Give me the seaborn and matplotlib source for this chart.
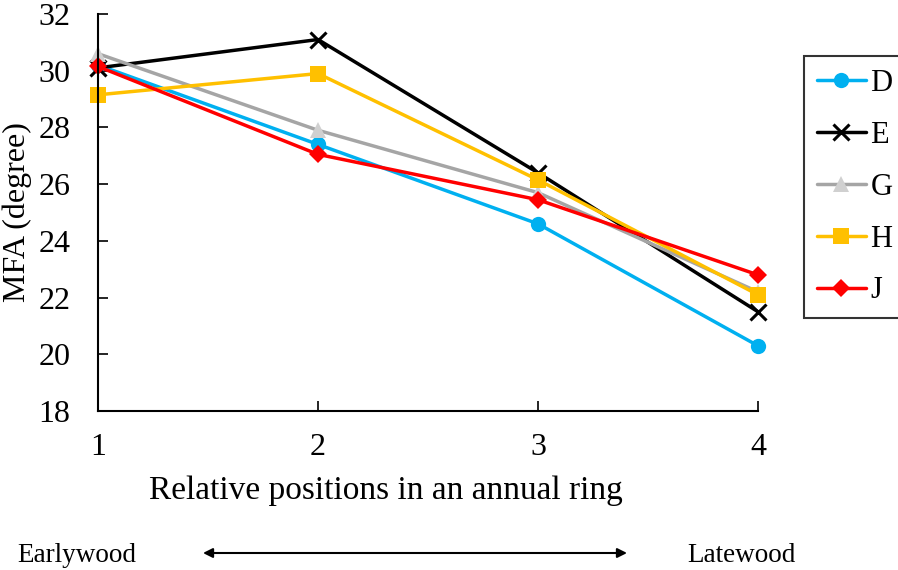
import matplotlib
matplotlib.use("Agg")
import matplotlib.pyplot as plt
import seaborn as sns
import pandas as pd

positions = [1, 2, 3, 4]
series_names = ["D", "E", "G", "H", "J"]
D = [30.2, 27.4, 24.6, 20.3]
E = [30.1, 31.1, 26.4, 21.5]
G = [30.6, 27.9, 25.7, 22.2]
H = [29.15, 29.9, 26.15, 22.1]
J = [30.15, 27.05, 25.45, 22.8]
y_ticks = [18, 20, 22, 24, 26, 28, 30, 32]

colors = {"D": "#00B0F0", "E": "#000000", "G": "#A5A5A5", "H": "#FFC000", "J": "#FF0000"}
markers = {"D": "o", "E": "x", "G": "^", "H": "s", "J": "D"}
msizes = {"D": 11, "E": 12, "G": 11, "H": 11, "J": 9}

rows = []
for name, vals in zip(series_names, [D, E, G, H, J]):
    for p, v in zip(positions, vals):
        rows.append({"pos": p, "MFA": v, "series": name})
df = pd.DataFrame(rows)

sns.set_style("ticks")
plt.rcParams["font.family"] = ["Liberation Serif", "DejaVu Serif"]
for k in ["text.color", "axes.labelcolor", "xtick.color", "ytick.color", "axes.edgecolor"]:
    plt.rcParams[k] = "black"

fig = plt.figure(figsize=(8.98, 5.70), dpi=100)
ax = fig.add_axes([98 / 898, 1 - 411 / 570, (758 - 98) / 898, (411 - 14) / 570])

for name in series_names:
    sub = df[df["series"] == name]
    mfc = "#D0D0D0" if name == "G" else colors[name]
    sns.lineplot(data=sub, x="pos", y="MFA", ax=ax, color=colors[name],
                 marker=markers[name], markersize=msizes[name], linewidth=2.5,
                 markerfacecolor=mfc, markeredgecolor=mfc,
                 markeredgewidth=2.2 if name == "E" else 0, label=name, clip_on=False)

ax.set_xlim(1, 4)
ax.set_ylim(18, 32)
ax.set_xticks(positions)
ax.set_yticks(y_ticks)
ax.tick_params(direction="in", length=7, width=1.2, labelsize=23, colors="black")
ax.tick_params(axis="y", pad=20)
ax.tick_params(axis="x", pad=16)
for s in ["top", "right"]:
    ax.spines[s].set_visible(False)
for s in ["left", "bottom"]:
    ax.spines[s].set_linewidth(1.5)
    ax.spines[s].set_color("black")
ax.set_xlabel("Relative positions in an annual ring", fontsize=24)
ax.xaxis.set_label_coords((386 - 98) / 660, -(476 - 411) / 397)
ax.set_ylabel("MFA (degree)", fontsize=23)
ax.yaxis.set_label_coords(-(98 - 32) / 660, 0.5)

leg = ax.legend(loc="upper left", bbox_to_anchor=(804 / 898, 1 - 56 / 570),
                bbox_transform=fig.transFigure, fontsize=22, frameon=True,
                fancybox=False, edgecolor="black", handlelength=1.6,
                labelspacing=0.75, borderpad=0.42, handletextpad=0.15,
                borderaxespad=0)
leg.get_frame().set_linewidth(1.5)

fig.text(17 / 898, 1 - 556 / 570, "Earlywood", fontsize=19.5, va="center", ha="left")
fig.text(687 / 898, 1 - 556 / 570, "Latewood", fontsize=19.5, va="center", ha="left")
ax.annotate("", xy=(627 / 898, 1 - 553 / 570), xytext=(203 / 898, 1 - 553 / 570),
            xycoords="figure fraction", textcoords="figure fraction",
            arrowprops=dict(arrowstyle="<|-|>", color="black", lw=1.5,
                            mutation_scale=14, shrinkA=0, shrinkB=0))

fig.savefig("out.png", dpi=100)
